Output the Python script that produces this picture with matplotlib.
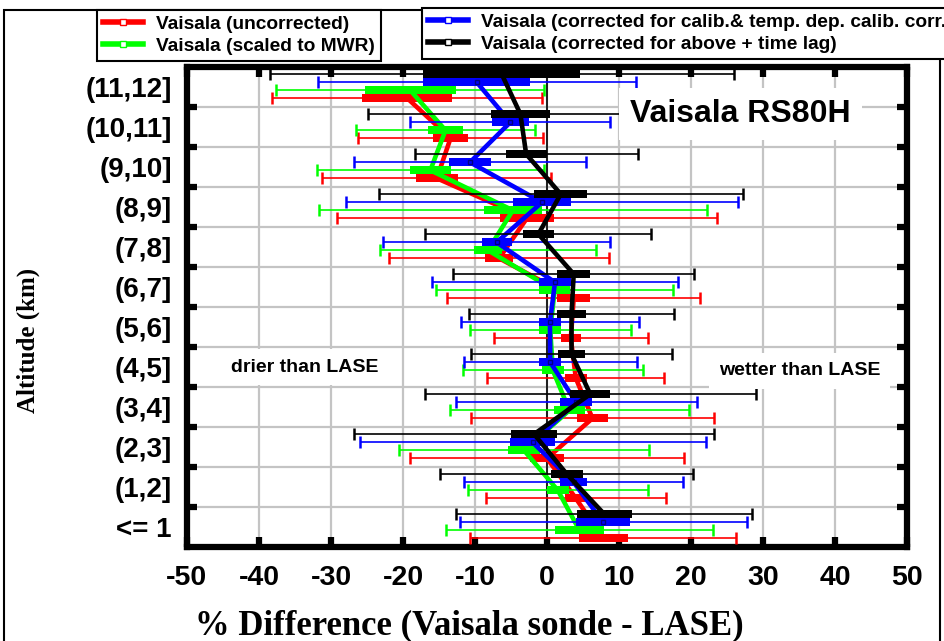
import numpy as np
import matplotlib.pyplot as plt
from matplotlib.lines import Line2D
from matplotlib.patches import Rectangle
from matplotlib.ticker import NullFormatter

plt.rcParams['font.family'] = ['Liberation Sans', 'DejaVu Sans']
plt.rcParams['font.weight'] = 'bold'
plt.rcParams['axes.unicode_minus'] = False

# --- DATA (bins from bottom to top) ---
bin_labels = ['<= 1', '(1,2]', '(2,3]', '(3,4]', '(4,5]', '(5,6]',
              '(6,7]', '(7,8]', '(8,9]', '(9,10]', '(10,11]', '(11,12]']

# mean % difference
red_mean   = [7.8, 4.0, 0.0, 6.3, 4.0, 3.3, 3.7, -6.65, -2.8, -15.3, -13.4, -19.4]
green_mean = [4.5, 1.5, -3.2, 3.1, 0.8, 0.45, 1.05, -8.2, -4.75, -16.2, -14.1, -19.0]
blue_mean  = [7.8, 3.7, -2.0, 4.05, 0.45, 0.4, 1.1, -7.0, -0.7, -10.7, -5.1, -9.75]
black_mean = [7.95, 2.75, -1.8, 6.0, 3.4, 3.4, 3.7, -1.2, 1.9, -2.9, -3.7, -6.3]

# standard deviation (thin error bars)
red_sd   = [18.5, 12.45, 19.0, 16.9, 12.3, 10.7, 17.55, 15.25, 26.4, 15.9, 12.8, 18.75]
green_sd = [18.5, 12.5, 17.4, 16.6, 12.5, 11.15, 16.45, 14.95, 26.95, 15.8, 12.4, 18.6]
blue_sd  = [19.9, 15.2, 24.0, 16.75, 12.0, 12.35, 17.05, 15.8, 27.2, 16.05, 13.9, 22.05]
black_sd = [20.55, 17.55, 24.95, 23.0, 14.0, 14.2, 16.7, 15.7, 25.3, 15.5, 21.1, 32.2]

# standard error (thick boxes, half width)
red_se   = [3.4, 1.5, 2.35, 2.2, 1.5, 1.4, 2.25, 1.95, 3.8, 2.9, 2.4, 6.25]
green_se = [3.35, 1.5, 2.2, 2.2, 1.5, 1.5, 2.2, 1.9, 4.0, 2.85, 2.45, 6.3]
blue_se  = [3.75, 1.9, 3.1, 2.25, 1.55, 1.55, 2.2, 2.1, 4.05, 2.9, 2.55, 7.45]
black_se = [3.85, 2.2, 3.2, 2.8, 1.9, 1.95, 2.25, 2.2, 3.7, 2.85, 4.05, 10.9]

labels = ['Vaisala (uncorrected)', 'Vaisala (scaled to MWR)',
          'Vaisala (corrected for calib.& temp. dep. calib. corr.)',
          'Vaisala (corrected for above + time lag)']
colors = ['#ff0000', '#00ff00', '#0000ff', '#000000']
offsets = [0.21, 0.41, 0.61, 0.815]

series = list(zip(labels, [red_mean, green_mean, blue_mean, black_mean],
                  [red_sd, green_sd, blue_sd, black_sd],
                  [red_se, green_se, blue_se, black_se], colors, offsets))

# --- PLOT ---
fig = plt.figure(figsize=(9.44, 6.41), dpi=100)
ax = fig.add_axes([0.198, 0.147, 0.763, 0.749])

ybase = np.arange(len(bin_labels))
for i, (lab, mean, sd, se, col, off) in enumerate(series):
    mean = np.array(mean)
    se = np.array(se)
    y = ybase + off
    z = 3 + i
    ax.errorbar(mean, y, xerr=sd, fmt='none', ecolor=col, elinewidth=1.2,
                capsize=4, capthick=1.8, zorder=z)
    ax.barh(y, 2 * se, left=mean - se, height=0.2, color=col, zorder=z + 0.1)
    ax.plot(mean, y, color=col, lw=3.3, zorder=z + 0.2)
    if col == '#0000ff':
        ax.plot(mean, y, 's', ms=3.5, mfc='none', mec='#000080', mew=1,
                zorder=z + 0.3)

ax.axvline(0, color='black', lw=1.2, zorder=2.5)

ax.set_xlim(-50, 50)
ax.set_ylim(0, 12)
ax.set_xticks(np.arange(-50, 51, 10))
ax.set_yticks(np.arange(1, 12))
ax.set_yticks(ybase + 0.5, minor=True)
ax.set_yticklabels(bin_labels, minor=True)
ax.yaxis.set_major_formatter(NullFormatter())
ax.tick_params(which='major', direction='in', length=7, width=4.5,
               top=True, right=True, labelsize=20.5, pad=13)
ax.tick_params(axis='y', which='minor', length=0, labelsize=20, pad=11)
ax.grid(True, color='#c4c4c4', lw=1.6)
ax.set_axisbelow(True)
for s in ax.spines.values():
    s.set_linewidth(4.5)

box = dict(facecolor='white', edgecolor='none', boxstyle='square,pad=0.35')
ax.text(26.8, 10.82, 'Vaisala RS80H', fontsize=23, ha='center', va='center',
        bbox=box, zorder=10)
ax.text(-33.6, 4.49, 'drier than LASE', fontsize=14, ha='center',
        va='center', bbox=dict(box, boxstyle='square,pad=0.5'), zorder=10)
ax.text(35.1, 4.4, 'wetter than LASE', fontsize=14, ha='center',
        va='center', bbox=dict(box, boxstyle='square,pad=0.5'), zorder=10)

fig.text(469 / 944, 1 - 626 / 641, '% Difference (Vaisala sonde - LASE)',
         family='Liberation Serif', weight='bold', fontsize=25,
         ha='center', va='center')
fig.text(28 / 944, 1 - 340 / 641, 'Altitude (km)', family='Liberation Serif',
         weight='bold', fontsize=18, rotation=90, ha='center', va='center')

# outer frame
fig.add_artist(Rectangle((4 / 944, -0.01), 936 / 944, 1 - 10 / 641 + 0.01,
                         transform=fig.transFigure, fill=False, lw=1.5,
                         ec='black'))

handles = [Line2D([], [], color=c, lw=4, marker='s', ms=4, mfc='white', mec=c)
           for c in colors]
leg_kw = dict(loc='upper left', frameon=True, fancybox=False, edgecolor='black',
              framealpha=1, fontsize=13.8, borderpad=0.3, labelspacing=0.22,
              handlelength=2.1, handletextpad=0.7, borderaxespad=0)
leg1 = fig.legend(handles[:2], labels[:2], bbox_to_anchor=(97 / 944, 1 - 10 / 641),
                  **leg_kw)
leg2 = fig.legend(handles[2:], labels[2:], bbox_to_anchor=(422 / 944, 1 - 8 / 641),
                  **leg_kw)
for lg in (leg1, leg2):
    lg.get_frame().set_linewidth(1.5)

fig.savefig('out.png', dpi=100)
